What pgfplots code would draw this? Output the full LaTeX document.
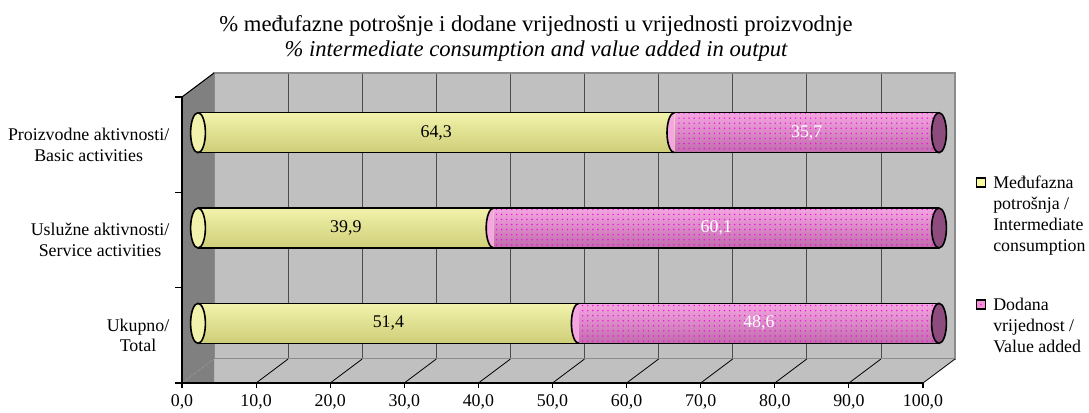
\documentclass[border=0pt]{standalone}
\usepackage{pgfplots}
\pgfplotsset{compat=1.18}
\usepackage{pgfplotstable}
\usepackage{fontspec}
\setmainfont{Liberation Serif}
\usetikzlibrary{patterns,patterns.meta}
\definecolor{wall}{HTML}{C0C0C0}
\definecolor{side}{HTML}{808080}
\definecolor{ylight}{HTML}{FAFA9E}
\definecolor{ytop}{HTML}{F2F2AC}
\definecolor{ybot}{HTML}{CECE78}
\definecolor{plight}{HTML}{F290D8}
\definecolor{ptop}{HTML}{F4A6E0}
\definecolor{pbot}{HTML}{C06AAC}
\definecolor{pdot}{HTML}{EC10DC}
\definecolor{pcap}{HTML}{8E4C7E}

\pgfdeclareplotmark{lcap}{%
  \pgfpathmoveto{\pgfqpoint{0pt}{15pt}}%
  \pgfpatharc{90}{270}{5.6pt and 15pt}%
  \pgfusepathqfillstroke}

\pgfplotstableread{
y yel pink
2.5 64.3 35.7
1.5 39.9 60.1
0.5 51.4 48.6
}\data

\newcommand{\fs}{\fontsize{13.4}{15.5}\selectfont}
\newcommand{\ft}{\fontsize{17}{19.5}\selectfont}

\begin{document}
\begin{tikzpicture}
\useasboundingbox (0,0) rectangle (816.75pt,-309pt);
\pgfplotsset{
  base/.style={scale only axis, width=555.75pt, height=214.5pt, xmin=0, xmax=100, anchor=south west},
  bars/.style={base, at={(148.5pt,-278.25pt)}, ymin=0, ymax=3, hide axis, clip=false},
  cap/.style={only marks, mark=*, mark size=15pt, mark options={xscale=0.37, fill=#1, draw=black, line width=1.2pt}},
  pinkbar/.style={xbar, bar shift=0pt, bar width=30pt, draw=none, top color=ptop, middle color=plight, bottom color=pbot},
  pinkdots/.style={xbar, bar shift=0pt, bar width=30pt, draw=none, fill=none, pattern={Dots[distance=3.8pt, radius=0.6pt]}, pattern color=pdot},
  yelbar/.style={xbar, bar shift=0pt, bar width=30pt, draw=none, top color=ytop, middle color=ylight, bottom color=ybot},
}
% back wall
\begin{axis}[base, at={(160.5pt,-269.25pt)}, ymin=0, ymax=1,
  axis background/.style={fill=wall}, xtick={0,10,...,100}, ytick=\empty,
  xmajorgrids, major grid style={draw=black!70, line width=0.6pt},
  xticklabels={}, major tick length=0pt, axis line style={draw=black!45, line width=0.8pt}]
\end{axis}
% side wall and floor
\fill[side] (136.5pt,-72.75pt) -- (160.5pt,-54.75pt) -- (160.5pt,-269.25pt) -- (136.5pt,-287.25pt) -- cycle;
\fill[wall] (136.5pt,-287.25pt) -- (160.5pt,-269.25pt) -- (716.25pt,-269.25pt) -- (692.25pt,-287.25pt) -- cycle;
\fill[side] (136.5pt,-287.25pt) -- (160.5pt,-269.25pt) -- (160.5pt,-287.25pt) -- cycle;
\foreach \k in {1,...,10} {
  \draw[black, line width=0.6pt] ({136.5pt+\k*55.575pt},-287.25pt) -- ({160.5pt+\k*55.575pt},-269.25pt);
}
\draw[black, line width=0.8pt] (136.5pt,-72.75pt) -- (160.5pt,-54.75pt);
% front axis with labels
\begin{axis}[base, at={(136.5pt,-287.25pt)}, ymin=0, ymax=3,
  axis x line*=bottom, axis y line*=left,
  axis line style={black, line width=0.8pt, -},
  tick align=outside, tick style={black, line width=0.8pt},
  xtick={0,10,...,100}, major tick length=4pt, minor tick length=5pt,
  ytick={0.5,1.5,2.5},
  major y tick style={draw=none},
  minor ytick={0,1,2,3},
  yticklabels={{Ukupno/\\Total},{Uslužne aktivnosti/\\Service activities},{Proizvodne aktivnosti/\\Basic activities}},
  yticklabel style={align=center, font=\fs, xshift=-2pt},
  xticklabel style={font=\fs, yshift=-1.5pt},
  /pgf/number format/fixed, /pgf/number format/fixed zerofill,
  /pgf/number format/precision=1, /pgf/number format/use comma,
  /pgf/number format/assume math mode=true]
\end{axis}
% cylinders
\begin{axis}[bars,
  /pgf/number format/fixed, /pgf/number format/fixed zerofill,
  /pgf/number format/precision=1, /pgf/number format/use comma,
  /pgf/number format/assume math mode=true]
% pink cylinders (full length, partly covered by yellow)
\addplot[pinkbar] coordinates {(100,2.5)};
\addplot[pinkbar] coordinates {(100,1.5)};
\addplot[pinkbar] coordinates {(100,0.5)};
\addplot[pinkdots] coordinates {(100,2.5) (100,1.5) (100,0.5)};
% yellow left caps
\addplot[cap=ytop] table[x expr=0, y=y] {\data};
% yellow cylinders
\addplot[yelbar] coordinates {(64.3,2.5)};
\addplot[yelbar] coordinates {(39.9,1.5)};
\addplot[yelbar] coordinates {(51.4,0.5)};
% pink caps at the junction
\addplot[only marks, mark=lcap, mark options={fill=ptop, draw=black, line width=1.2pt}] table[x=yel, y=y] {\data};
% right end caps
\addplot[cap=pcap] table[x expr=100, y=y] {\data};
% outlines
\addplot[black, line width=1.2pt] coordinates {(0,2.71) (100,2.71)};
\addplot[black, line width=1.2pt] coordinates {(0,2.29) (100,2.29)};
\addplot[black, line width=1.2pt] coordinates {(0,1.71) (100,1.71)};
\addplot[black, line width=1.2pt] coordinates {(0,1.29) (100,1.29)};
\addplot[black, line width=1.2pt] coordinates {(0,0.71) (100,0.71)};
\addplot[black, line width=1.2pt] coordinates {(0,0.29) (100,0.29)};
% value labels
\addplot[only marks, mark=*, mark size=0.01pt, mark options={draw=none, fill=none},
  point meta=explicit, nodes near coords,
  nodes near coords style={anchor=center, font=\fs, text=black}]
  table[x expr=\thisrow{yel}/2, y=y, meta=yel] {\data};
\addplot[only marks, mark=*, mark size=0.01pt, mark options={draw=none, fill=none},
  point meta=explicit, nodes near coords,
  nodes near coords style={anchor=center, font=\fs, text=white}]
  table[x expr=(\thisrow{yel}+100)/2, y=y, meta=pink] {\data};
\end{axis}
% title
\node[anchor=base, font=\ft] at (402pt,-23.5pt) {\% međufazne potrošnje i dodane vrijednosti u vrijednosti proizvodnje};
\node[anchor=base, font=\ft\itshape] at (402pt,-42.5pt) {\% intermediate consumption and value added in output};
% legend
\draw[black, line width=1.2pt, fill=ylight] (732.4pt,-133.5pt) rectangle (739pt,-140.25pt);
\draw[black, line width=1.2pt, fill=plight] (732.4pt,-225pt) rectangle (739pt,-231.75pt);
\fill[pdot] (735.7pt,-228.4pt) circle (0.6pt);
\begin{scope}[every node/.style={anchor=base west, font=\fs, inner sep=0pt}]
\node at (744.75pt,-141pt) {Međufazna};
\node at (744.75pt,-156.75pt) {potrošnja /};
\node at (744.75pt,-172.5pt) {Intermediate};
\node at (744.75pt,-188.25pt) {consumption};
\node at (744.75pt,-232.5pt) {Dodana};
\node at (744.75pt,-248.25pt) {vrijednost /};
\node at (744.75pt,-264pt) {Value added};
\end{scope}
\end{tikzpicture}
\end{document}
